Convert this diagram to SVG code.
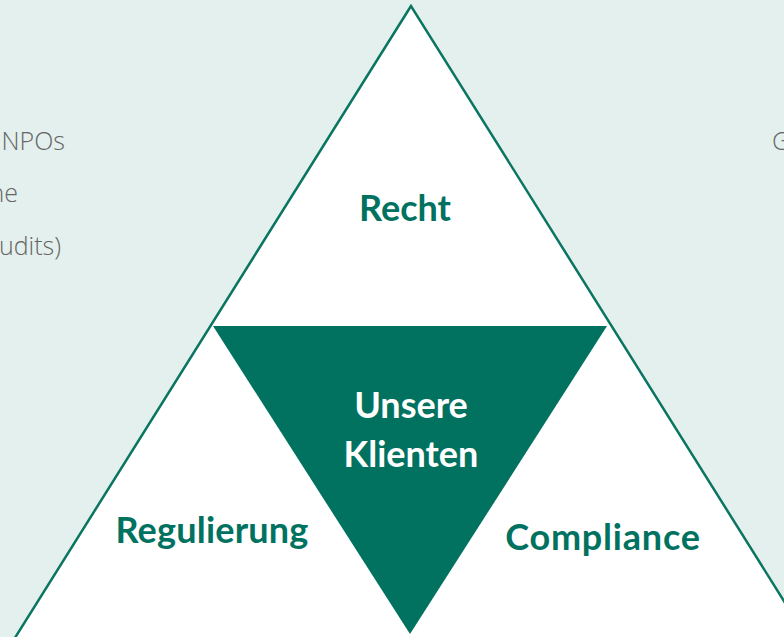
<svg xmlns="http://www.w3.org/2000/svg" width="784" height="637" viewBox="0 0 784 637">
<style>
.lbl{font-family:Lato,"Liberation Sans",sans-serif;font-weight:700;font-size:36px;text-anchor:middle;fill:#00725f}
.inner{fill:#ffffff}
.side{font-family:"Open Sans","Liberation Sans",sans-serif;font-weight:300;font-size:25px;fill:#666666}
</style>
<rect width="784" height="637" fill="#e4f0ed"/>
<g id="side-text">
<text class="side" x="65" y="150" text-anchor="end">NPOs</text>
<text class="side" x="18" y="202" text-anchor="end">ne</text>
<text class="side" x="61" y="255" text-anchor="end">udits)</text>
<text class="side" x="772" y="150">G</text>
</g>
<g id="outer-triangle">
<polygon points="411,6 -24,700 846,700" fill="#ffffff" stroke="#0a7561" stroke-width="2.5" stroke-linejoin="miter"/>
</g>
<g id="clients">
<polygon points="213,326 607,326 410,634" fill="#00725f"/>
<text class="lbl inner" x="411" y="418">Unsere</text>
<text class="lbl inner" x="411" y="467">Klienten</text>
</g>
<g id="recht"><text class="lbl" x="405" y="221">Recht</text></g>
<g id="regulierung"><text class="lbl" x="212" y="543" letter-spacing="0.2">Regulierung</text></g>
<g id="compliance"><text class="lbl" x="603" y="550" letter-spacing="0.8">Compliance</text></g>
<g id="connectors"></g>
</svg>
